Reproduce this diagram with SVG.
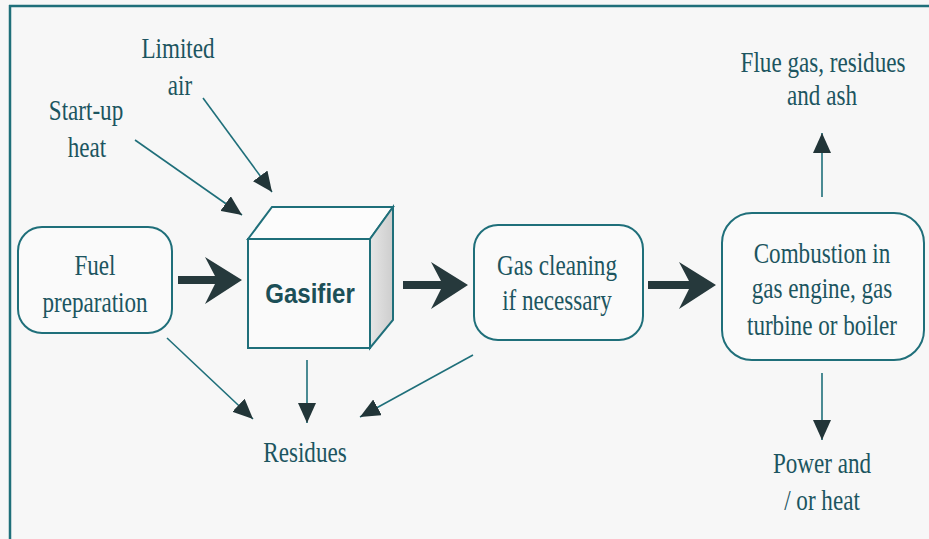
<svg xmlns="http://www.w3.org/2000/svg" width="929" height="539" viewBox="0 0 929 539">
  <style>
    .lbl { font-family: 'Liberation Serif', 'Times New Roman', serif; font-size: 30px; fill: #1c5560; text-anchor: middle; }
    .box { fill: #fafafa; stroke: #1f6f7a; stroke-width: 2; }
    .thin { fill: none; stroke: #1f6f7a; stroke-width: 1.6; marker-end: url(#tri); }
    .fat { fill: #26393c; }
    .frame { stroke: #1f6f7a; stroke-width: 2.5; }
  </style>
  <defs>
    <marker id="tri" viewBox="0 0 20 18" refX="20" refY="9" markerWidth="20" markerHeight="18" markerUnits="userSpaceOnUse" orient="auto">
      <path d="M0,0 L20,9 L0,18 Z" fill="#223538"/>
    </marker>
    <linearGradient id="side" x1="0" y1="0" x2="1" y2="0">
      <stop offset="0" stop-color="#e6e6e6"/>
      <stop offset="1" stop-color="#cdcdcd"/>
    </linearGradient>
  </defs>

  <!-- background and frame -->
  <rect width="929" height="539" fill="#f7f7f7"/>
  <line class="frame" x1="9" y1="6" x2="929" y2="6"/>
  <line class="frame" x1="10" y1="5" x2="10" y2="539"/>

  <!-- labels use a tall, narrow serif: 30px glyphs squeezed to 77% width -->
  <g id="limited-air">
    <text class="lbl" transform="translate(178,58) scale(0.77,1)">Limited</text>
    <text class="lbl" transform="translate(180,95) scale(0.77,1)">air</text>
  </g>
  <g id="startup-heat">
    <text class="lbl" transform="translate(86,120) scale(0.77,1)">Start-up</text>
    <text class="lbl" transform="translate(87,157) scale(0.77,1)">heat</text>
  </g>
  <g id="flue-gas">
    <text class="lbl" transform="translate(823,72) scale(0.77,1)">Flue gas, residues</text>
    <text class="lbl" transform="translate(822,105) scale(0.77,1)">and ash</text>
  </g>
  <g id="power-heat">
    <text class="lbl" transform="translate(822,473) scale(0.77,1)">Power and</text>
    <text class="lbl" transform="translate(822,510) scale(0.77,1)">/ or heat</text>
  </g>
  <g id="residues">
    <text class="lbl" transform="translate(305,462) scale(0.77,1)">Residues</text>
  </g>

  <!-- process nodes -->
  <g id="fuel-preparation">
    <rect class="box" x="18" y="227" width="154" height="106" rx="24" ry="24"/>
    <text class="lbl" transform="translate(95,275) scale(0.77,1)">Fuel</text>
    <text class="lbl" transform="translate(95,312) scale(0.77,1)">preparation</text>
  </g>

  <g id="gasifier">
    <path d="M248,239 L272,207 L393,207 L370,239 Z" fill="#fcfcfc" stroke="#1f6f7a" stroke-width="2"/>
    <path d="M370,239 L393,207 L393,320 L370,348 Z" fill="url(#side)" stroke="#1f6f7a" stroke-width="2"/>
    <rect x="248" y="239" width="122" height="109" fill="#fafafa" stroke="#1f6f7a" stroke-width="2"/>
    <text transform="translate(310,303) scale(0.86,1)" font-family="'Liberation Sans', Arial, sans-serif" font-size="28" font-weight="bold" fill="#1c4f57" text-anchor="middle">Gasifier</text>
  </g>

  <g id="gas-cleaning">
    <rect class="box" x="474" y="225" width="169" height="115" rx="24" ry="24"/>
    <text class="lbl" transform="translate(557,275) scale(0.77,1)">Gas cleaning</text>
    <text class="lbl" transform="translate(557,310) scale(0.77,1)">if necessary</text>
  </g>

  <g id="combustion">
    <rect class="box" x="722" y="213" width="202" height="147" rx="30" ry="30"/>
    <text class="lbl" transform="translate(822,263) scale(0.77,1)">Combustion in</text>
    <text class="lbl" transform="translate(822,298) scale(0.77,1)">gas engine, gas</text>
    <text class="lbl" transform="translate(822,335) scale(0.77,1)">turbine or boiler</text>
  </g>

  <!-- connectors -->
  <g id="connectors">
    <!-- main flow: bold arrows -->
    <path class="fat" d="M178,276 L215,276 L205,257 L242,280 L205,304 L215,284 L178,284 Z"/>
    <path class="fat" d="M403,281 L441,281 L431,262 L468,285 L431,309 L441,289 L403,289 Z"/>
    <path class="fat" d="M648,281 L689,281 L679,262 L716,285 L679,309 L689,289 L648,289 Z"/>

    <!-- inputs to the gasifier -->
    <line class="thin" x1="135" y1="140" x2="242" y2="215"/>
    <line class="thin" x1="203" y1="98" x2="272" y2="192"/>

    <!-- residues -->
    <line class="thin" x1="167" y1="338" x2="253" y2="419"/>
    <line class="thin" x1="307" y1="360" x2="307" y2="423"/>
    <line class="thin" x1="473" y1="355" x2="360" y2="417"/>

    <!-- combustion outputs -->
    <line class="thin" x1="822" y1="197" x2="822" y2="133"/>
    <line class="thin" x1="822" y1="373" x2="822" y2="440"/>
  </g>
</svg>
